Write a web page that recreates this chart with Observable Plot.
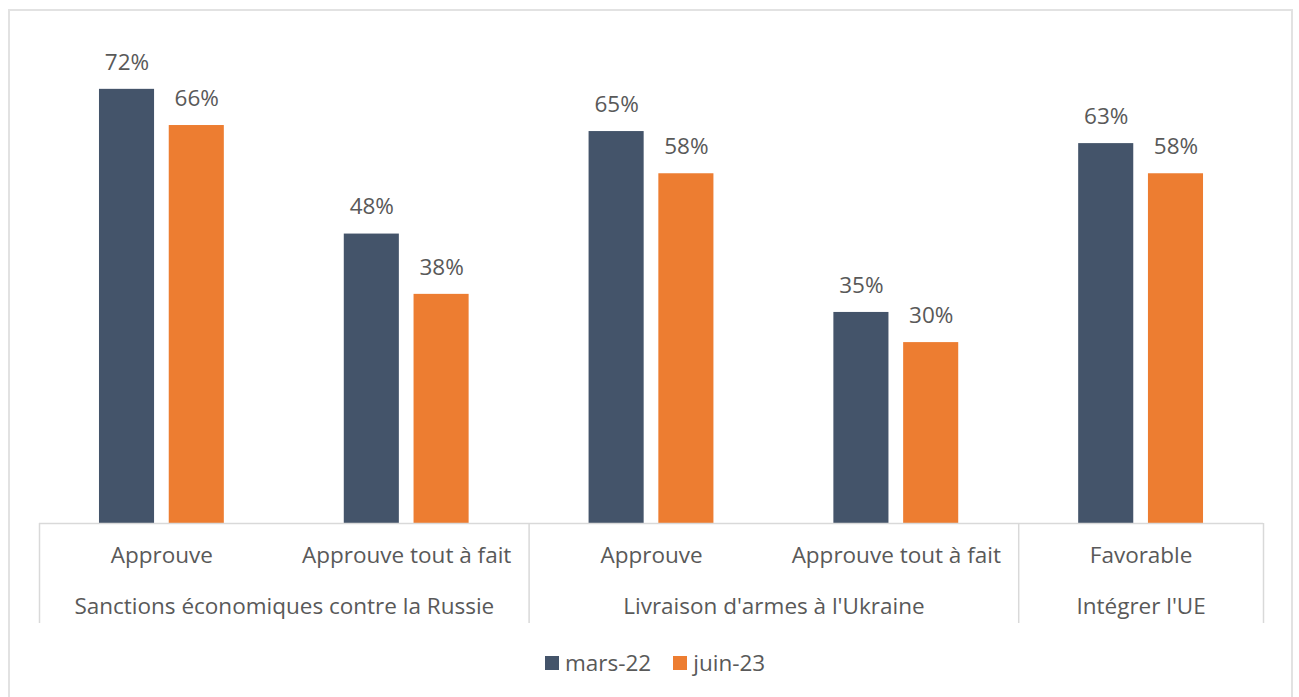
<!DOCTYPE html>
<html>
<head>
<meta charset="utf-8">
<script src="https://cdn.jsdelivr.net/npm/d3@7"></script>
<script src="https://cdn.jsdelivr.net/npm/@observablehq/plot@0.6"></script>
<style>
  html, body { margin: 0; padding: 0; background: #fff; width: 1299px; height: 697px; overflow: hidden; }
  #frame { position: absolute; left: 8px; top: 9px; width: 1285px; height: 720px; border: 2px solid #e2e2e2; box-sizing: border-box; }
  #bars { position: absolute; left: 0; top: 0; }
  #cats { position: absolute; left: 0; top: 523px; }
  #cats svg { overflow: visible; }
  #legend { position: absolute; left: 545px; top: 646px; }
  .lg-swatches { font-family: "Open Sans", sans-serif !important; font-size: 22.5px !important; color: #595959 !important; margin: 0 !important; }
  .lg-swatch { margin-right: 22px !important; }
  .lg-swatch > svg { margin-right: 6px !important; }
</style>
</head>
<body>
<div id="frame"></div>
<div id="bars"></div>
<div id="cats"></div>
<div id="legend"></div>
<script>
// ---- data ----
const groups = ["Sanctions économiques contre la Russie", "Livraison d'armes à l'Ukraine", "Intégrer l'UE"];
const subcategories = ["Approuve", "Approuve tout à fait", "Approuve", "Approuve tout à fait", "Favorable"];
const subGroup = [0, 0, 1, 1, 2];
const periods = ["mars-22", "juin-23"];
const mars22 = [72, 48, 65, 35, 63];
const juin23 = [66, 38, 58, 30, 58];
const colors = ["#44546a", "#ed7d31"];

// ---- derived tables ----
const series = [mars22, juin23];
const barW = 0.225, gap = 0.06;
const rows = [];
subcategories.forEach((s, k) => {
  periods.forEach((p, j) => {
    const x1 = j === 0 ? k + 0.5 - gap / 2 - barW : k + 0.5 + gap / 2;
    rows.push({k, sub: s, period: p, value: series[j][k], x1, x2: x1 + barW});
  });
});
const subRows = subcategories.map((s, k) => ({k, name: s}));
const groupRows = groups.map((g, gi) => {
  const ks = subGroup.map((v, k) => v === gi ? k : -1).filter(k => k >= 0);
  return {name: g, first: d3.min(ks), last: d3.max(ks) + 1};
});
const boundaries = [0, ...groupRows.map(g => g.last)];

const W = 1299, ML = 39, MR = 36;
const txt = "#595959";
const font = {fontFamily: "Open Sans, sans-serif", fontSize: "22.5px", color: txt, background: "transparent"};

const bars = Plot.plot({
  width: W, height: 530,
  marginLeft: ML, marginRight: MR, marginTop: 40.6, marginBottom: 7,
  x: {domain: [0, subcategories.length], axis: null},
  y: {domain: [0, 80], axis: null},
  color: {domain: periods, range: colors},
  style: font,
  marks: [
    Plot.rect(rows, {x1: "x1", x2: "x2", y1: 0, y2: "value", fill: "period"}),
    Plot.ruleY([0], {stroke: "#d9d9d9", strokeWidth: 1.5}),
    Plot.text(rows, {x: d => (d.x1 + d.x2) / 2, y: "value", text: d => d.value + "%", dy: -27, fill: txt})
  ]
});
document.getElementById("bars").appendChild(bars);

const cats = Plot.plot({
  width: W, height: 100,
  marginLeft: ML, marginRight: MR, marginTop: 0, marginBottom: 0,
  x: {domain: [0, subcategories.length], axis: null},
  style: font,
  marks: [
    Plot.ruleX(boundaries, {stroke: "#d9d9d9", strokeWidth: 1.5}),
    Plot.text(subRows, {x: d => d.k + 0.5, text: "name", frameAnchor: "top", lineAnchor: "middle", dy: 32, fill: txt}),
    Plot.text(groupRows, {x: d => (d.first + d.last) / 2, text: "name", frameAnchor: "top", lineAnchor: "middle", dy: 83, fill: txt})
  ]
});
document.getElementById("cats").appendChild(cats);

const legend = Plot.legend({
  legend: "swatches",
  color: {domain: periods, range: colors},
  swatchSize: 14,
  className: "lg"
});
document.getElementById("legend").appendChild(legend);
</script>
</body>
</html>
